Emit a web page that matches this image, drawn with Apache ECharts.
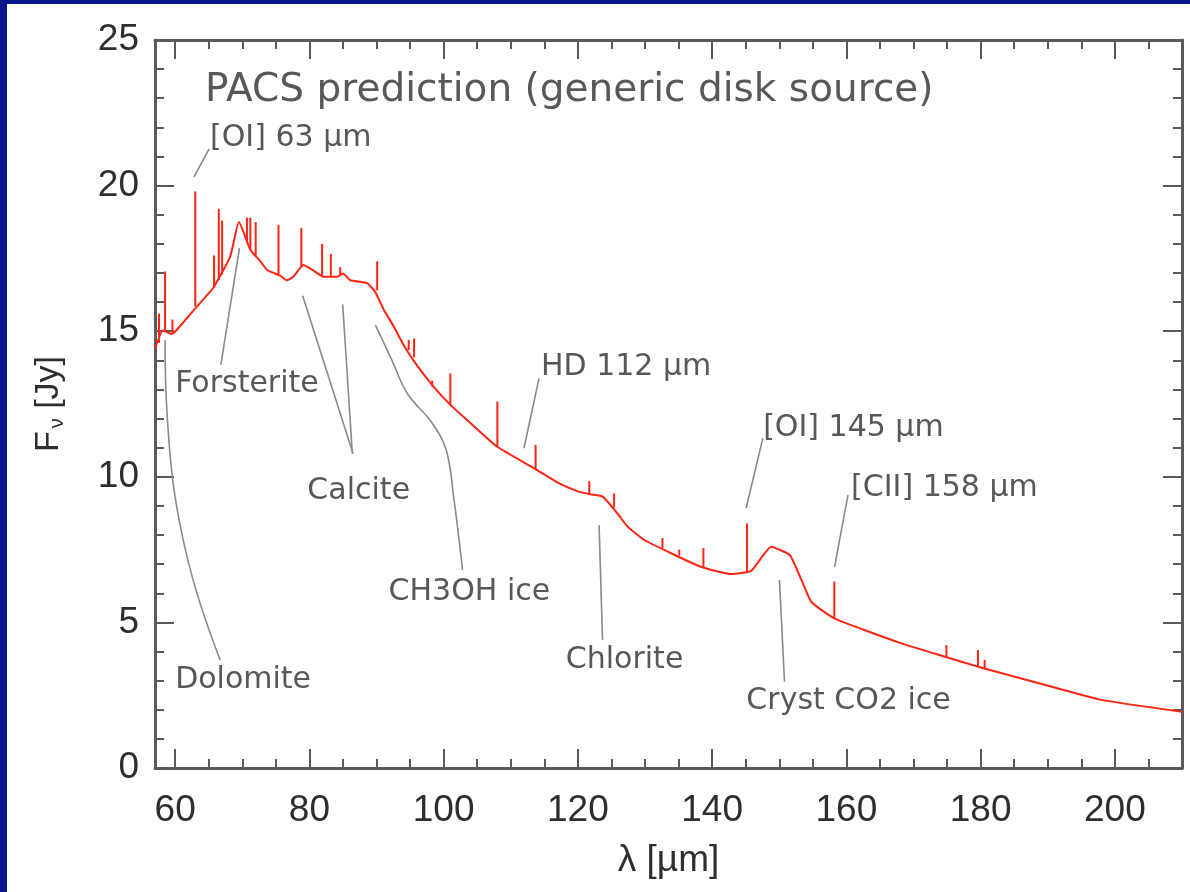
<!DOCTYPE html>
<html><head><meta charset="utf-8">
<script src="https://cdn.jsdelivr.net/npm/echarts@6/dist/echarts.min.js"></script>
<style>
html,body{margin:0;padding:0;background:#0a168c;width:1190px;height:892px;overflow:hidden}
#chart{position:absolute;left:7px;top:4px;width:1183px;height:888px;background:#fff}
</style></head><body><div id="chart"></div>
<script>
// Continuum (wavelength in µm, flux in Jy)
const continuumLambda = [57.0, 58.2, 59.5, 61.2, 62.7, 65.7, 68.2, 69.5, 71.2, 72.7, 73.7, 75.7, 76.6, 77.6, 79.1, 80.5, 82.1, 84.1, 85.0, 86.1, 88.6, 89.8, 91.1, 92.6, 94.1, 96.1, 98.5, 101.0, 103.5, 108.0, 113.5, 117.0, 120.0, 121.9, 123.7, 125.9, 127.4, 129.9, 133.4, 138.3, 142.8, 145.8, 148.8, 150.0, 151.6, 153.3, 154.8, 158.2, 168.2, 174.7, 179.6, 190.6, 198.0, 210.0];
const continuumFlux   = [14.4, 15.02, 14.9, 15.3, 15.7, 16.5, 17.56, 18.75, 17.8, 17.4, 17.1, 16.9, 16.75, 16.87, 17.27, 17.1, 16.87, 16.87, 16.98, 16.75, 16.65, 16.35, 15.73, 15.15, 14.5, 13.8, 13.1, 12.47, 11.95, 11.03, 10.29, 9.8, 9.5, 9.4, 9.32, 8.74, 8.29, 7.83, 7.43, 6.91, 6.66, 6.77, 7.6, 7.5, 7.31, 6.46, 5.7, 5.14, 4.28, 3.82, 3.48, 2.79, 2.34, 1.93];
// Emission lines: wavelength, continuum level at the line, peak flux
const lineLambda = [57.6, 58.5, 59.6, 63.0, 65.8, 66.5, 67.0, 70.7, 71.2, 72.0, 75.4, 78.8, 81.9, 83.2, 84.6, 90.1, 94.8, 95.6, 98.3, 101.0, 108.0, 113.7, 121.7, 125.4, 132.6, 135.1, 138.7, 145.2, 158.2, 174.9, 179.6, 180.6];
const lineBase   = [14.6, 15.0, 14.95, 15.85, 16.5, 16.75, 16.95, 18.1, 17.8, 17.55, 16.9, 17.2, 16.87, 16.87, 16.95, 16.4, 14.35, 14.1, 13.1, 12.47, 11.03, 10.25, 9.4, 8.95, 7.55, 7.3, 6.9, 6.75, 5.14, 3.82, 3.5, 3.42];
const linePeak   = [15.6, 17.05, 15.4, 19.8, 17.6, 19.2, 18.8, 18.9, 18.9, 18.75, 18.65, 18.55, 18.0, 17.65, 17.2, 17.4, 14.7, 14.75, 13.3, 13.55, 12.58, 11.1, 9.85, 9.43, 7.9, 7.5, 7.55, 8.4, 6.4, 4.22, 4.05, 3.71];
// Axis ticks
const xTickValues = [60, 80, 100, 120, 140, 160, 180, 200];
const xMinorValues = [60, 65, 70, 75, 80, 85, 90, 95, 100, 105, 110, 115, 120, 125, 130, 135, 140, 145, 150, 155, 160, 165, 170, 175, 180, 185, 190, 195, 200, 205];
const yTickValues = [0, 5, 10, 15, 20, 25];
const yMinorValues = [1, 2, 3, 4, 6, 7, 8, 9, 11, 12, 13, 14, 16, 17, 18, 19, 21, 22, 23, 24];
// Annotation texts [lambda, flux, text] and leader lines (data coordinates)
const titleText = 'PACS prediction (generic disk source)';
const annotTexts = [
  [65.2, 21.63, '[OI] 63 µm'],
  [60.0, 13.19, 'Forsterite'],
  [79.7, 9.51, 'Calcite'],
  [91.8, 6.04, 'CH3OH ice'],
  [114.5, 13.77, 'HD 112 µm'],
  [118.2, 3.71, 'Chlorite'],
  [147.6, 11.68, '[OI] 145 µm'],
  [160.7, 9.62, '[CII] 158 µm'],
  [145.1, 2.30, 'Cryst CO2 ice'],
  [60.0, 3.02, 'Dolomite']
];
const leaderOI63 = [[65.06, 21.26], [62.82, 20.30]];
const leaderForst = [[69.58, 17.85], [66.81, 13.84]];
const leaderCalc1 = [[79.0, 16.22], [86.5, 10.8]];
const leaderCalc2 = [[84.96, 15.92], [86.4, 10.8]];
const leaderCH3OH = [[89.84, 15.21], [92.3, 14.0], [94.57, 12.87], [98.3, 11.84], [100.4, 10.9], [101.5, 9.3], [102.82, 6.80]];
const leaderHD = [[114.21, 13.38], [111.97, 10.98]];
const leaderChlor = [[123.16, 8.34], [123.67, 4.40]];
const leaderOI145 = [[147.55, 11.32], [145.06, 8.92]];
const leaderCII = [[160.24, 9.375], [158.24, 6.91]];
const leaderCO2 = [[150.03, 6.46], [150.78, 2.96]];
const leaderDolo = [[58.49, 14.70], [58.79, 12.19], [59.99, 9.31], [62.67, 6.46], [66.70, 3.71]];

const XMIN = 57, XMAX = 210, YMIN = 0, YMAX = 25;
const AX = '#5a5a5a', TXT = '#2e2e2e', RED = '#ff2414', LEAD = '#8a8a8a';
const FONT = 'DejaVu Sans';
const TICKFONT = 'Liberation Sans';

function xAx(pos, ticks, len, main) {
  const labelled = main && pos === 'bottom';
  return {
    type: 'value', position: pos, min: XMIN, max: XMAX,
    axisLine: {show: main, onZero: false, lineStyle: {color: AX, width: 3}},
    axisTick: {show: true, inside: true, length: len, customValues: ticks, lineStyle: {color: AX, width: 2}},
    axisLabel: labelled ? {
      show: true, fontFamily: TICKFONT, fontSize: 37, color: TXT, margin: 24, customValues: xTickValues
    } : {show: false},
    splitLine: {show: false},
    name: labelled ? 'λ [µm]' : '',
    nameLocation: 'middle', nameGap: 74,
    nameTextStyle: {fontFamily: TICKFONT, fontSize: 37, color: TXT}
  };
}
function yAx(pos, ticks, len, main) {
  const labelled = main && pos === 'left';
  return {
    type: 'value', position: pos, min: YMIN, max: YMAX,
    axisLine: {show: main, onZero: false, lineStyle: {color: AX, width: 3}},
    axisTick: {show: true, inside: true, length: len, customValues: ticks, lineStyle: {color: AX, width: 2}},
    axisLabel: labelled ? {
      show: true, fontFamily: TICKFONT, fontSize: 37, color: TXT, margin: 16, customValues: yTickValues
    } : {show: false},
    splitLine: {show: false},
    name: labelled ? '{a|F}{b|ν}{a| [Jy]}' : '',
    nameLocation: 'middle', nameGap: 88,
    nameTextStyle: {
      rich: {
        a: {fontFamily: TICKFONT, fontSize: 34, color: TXT},
        b: {fontFamily: TICKFONT, fontSize: 20, color: TXT, padding: [16, 0, 0, 3]}
      }
    }
  };
}

const chart = echarts.init(document.getElementById('chart'), null, {renderer: 'canvas'});

const continuumData = continuumLambda.map((l, i) => [l, continuumFlux[i]]);
const spikeData = lineLambda.map((l, i) => [l, lineBase[i], linePeak[i]]);

function leader(points, smooth) {
  return {
    type: 'line', xAxisIndex: 0, yAxisIndex: 0, data: points, smooth: smooth ? 0.4 : false,
    symbol: 'none', silent: true, z: 3,
    lineStyle: {color: LEAD, width: 1.6}
  };
}

const option = {
  backgroundColor: '#ffffff',
  animation: false,
  grid: {left: 148, right: 8, top: 36, bottom: 124, containLabel: false},
  xAxis: [xAx('bottom', xTickValues, 19, true), xAx('bottom', xMinorValues, 9, false),
          xAx('top', xTickValues, 19, true), xAx('top', xMinorValues, 9, false)],
  yAxis: [yAx('left', yTickValues, 19, true), yAx('left', yMinorValues, 9, false),
          yAx('right', yTickValues, 19, true), yAx('right', yMinorValues, 9, false)],
  series: [
    {
      type: 'line', xAxisIndex: 0, yAxisIndex: 0, data: continuumData, smooth: 0.15,
      symbol: 'none', z: 5, lineStyle: {color: RED, width: 2}
    },
    {
      type: 'custom', xAxisIndex: 0, yAxisIndex: 0, data: spikeData, z: 5,
      encode: {x: 0, y: [1, 2]},
      renderItem: function (params, api) {
        const a = api.coord([api.value(0), api.value(1)]);
        const b = api.coord([api.value(0), api.value(2)]);
        return {type: 'line', shape: {x1: a[0], y1: a[1], x2: b[0], y2: b[1]},
                style: {stroke: RED, lineWidth: 2}};
      }
    },
    leader(leaderOI63), leader(leaderForst), leader(leaderCalc1), leader(leaderCalc2),
    leader(leaderCH3OH, true), leader(leaderHD), leader(leaderChlor), leader(leaderOI145),
    leader(leaderCII), leader(leaderCO2), leader(leaderDolo, true),
    {
      type: 'scatter', xAxisIndex: 0, yAxisIndex: 0, symbolSize: 0, silent: true,
      data: annotTexts.map(t => ({value: [t[0], t[1]], name: t[2]})),
      label: {show: true, position: 'right', distance: 0, formatter: p => p.name,
              fontFamily: FONT, fontSize: 30, color: TXT, verticalAlign: 'middle'}
    },
    {
      type: 'scatter', xAxisIndex: 0, yAxisIndex: 0, symbolSize: 0, silent: true,
      data: [{value: [64.46, 23.25], name: titleText}],
      label: {show: true, position: 'right', distance: 0, formatter: p => p.name,
              fontFamily: FONT, fontSize: 39, color: TXT, verticalAlign: 'middle'}
    }
  ]
};
chart.setOption(option);
</script></body></html>
